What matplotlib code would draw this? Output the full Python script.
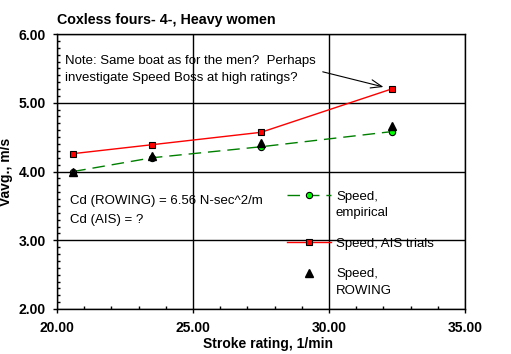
import matplotlib
matplotlib.use("Agg")
import matplotlib.pyplot as plt
from matplotlib.legend_handler import HandlerLine2D
from matplotlib.ticker import MultipleLocator, FormatStrFormatter

plt.rcParams['font.family'] = ['Liberation Sans', 'DejaVu Sans']

# stroke rating (1/min) and average speed (m/s)
rating = [20.6, 23.5, 27.5, 32.3]
speed_empirical = [4.00, 4.20, 4.36, 4.58]
speed_ais = [4.26, 4.39, 4.57, 5.20]
speed_rowing = [4.00, 4.23, 4.42, 4.66]

fig = plt.figure(figsize=(5.11, 3.54), dpi=100)
ax = fig.add_axes([57 / 511, 1 - 309 / 354, 408 / 511, 275 / 354])

ais, = ax.plot(rating, speed_ais, color='#ff0000', lw=1, marker='s', ms=5,
               mfc='#ff0000', mec='black', mew=0.8, label='Speed, AIS trials')
emp, = ax.plot(rating, speed_empirical, color='#008000', lw=1, ls=(0, (9, 5)),
               marker='o', ms=4.5, mfc='#00ff00', mec='black', mew=0.8,
               label='Speed,\nempirical')
row, = ax.plot(rating, speed_rowing, ls='none', marker='^', ms=5.5,
               color='black', label='Speed,\nROWING')

ax.set_xlim(20, 35)
ax.set_ylim(2, 6)
ax.xaxis.set_major_locator(MultipleLocator(5))
ax.xaxis.set_minor_locator(MultipleLocator(1))
ax.yaxis.set_major_locator(MultipleLocator(1))
ax.yaxis.set_minor_locator(MultipleLocator(0.1))
ax.xaxis.set_major_formatter(FormatStrFormatter('%.2f'))
ax.yaxis.set_major_formatter(FormatStrFormatter('%.2f'))
ax.tick_params(which='major', direction='out', length=3, width=1, color='black')
ax.tick_params(which='minor', direction='in', length=2, width=1, color='black')
ax.tick_params(axis='x', which='major', pad=6)
ax.tick_params(axis='y', which='major', pad=5)
for lab in ax.get_xticklabels() + ax.get_yticklabels():
    lab.set_fontweight('bold')
    lab.set_fontsize(10)
ax.grid(True, which='major', color='black', lw=1)
ax.set_axisbelow(True)
for sp in ax.spines.values():
    sp.set_linewidth(1)
    sp.set_color('black')

ax.set_title('Coxless fours- 4-, Heavy women', loc='left', fontsize=10.3,
             fontweight='bold', pad=7)
ax.set_xlabel('Stroke rating, 1/min', fontsize=10, fontweight='bold', labelpad=1)
ax.xaxis.label.set_x(0.517)
ax.set_ylabel('Vavg., m/s', fontsize=10, fontweight='bold', labelpad=4)

ax.text(0.02, 0.925, 'Note: Same boat as for the men?  Perhaps\n'
        'investigate Speed Boss at high ratings?', transform=ax.transAxes,
        fontsize=9.5, va='top', ha='left', linespacing=1.6)
ax.annotate('', xy=(rating[-1], speed_ais[-1]), xytext=(29.77, 5.45),
            arrowprops=dict(arrowstyle='->,head_length=0.8,head_width=0.3',
                            color='black', lw=0.8, shrinkA=0, shrinkB=6,
                            mutation_scale=10))
ax.text(0.032, 0.393, 'Cd (ROWING) = 6.56 N-sec^2/m', transform=ax.transAxes,
        fontsize=9.5, va='center', ha='left')
ax.text(0.032, 0.323, 'Cd (AIS) = ?', transform=ax.transAxes,
        fontsize=9.5, va='center', ha='left')


def raise_handle(legline, orig):
    # put the sample beside the first line of a two-line label
    legline.update_from(orig)
    legline.set_ydata(legline.get_ydata() + 7)


leg = ax.legend(handles=[emp, ais, row], loc='upper left',
                bbox_to_anchor=(0.564, 0.43), frameon=False, borderpad=0,
                borderaxespad=0, handlelength=3.3, handletextpad=0.4,
                labelspacing=1.4, numpoints=1, fontsize=9.5,
                handler_map={emp: HandlerLine2D(update_func=raise_handle),
                             row: HandlerLine2D(update_func=raise_handle)})
for t in leg.get_texts():
    t.set_linespacing(1.5)

fig.savefig('out.png', dpi=100)
